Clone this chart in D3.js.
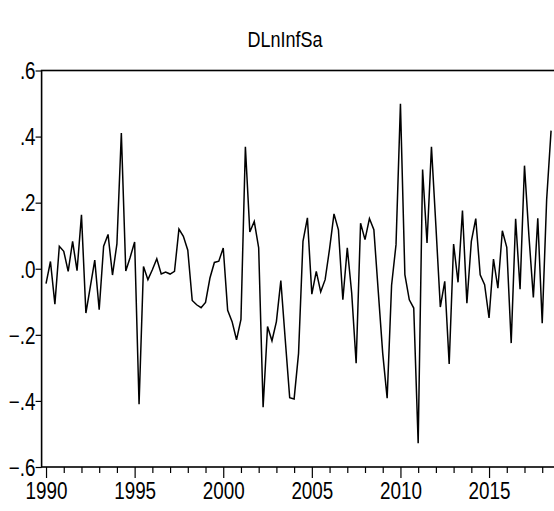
<!DOCTYPE html>
<html>
<head>
<meta charset="utf-8">
<script src="https://cdn.jsdelivr.net/npm/d3@7"></script>
<style>
  body { margin: 0; background: #fff; }
  svg { display: block; }
  text { font-family: "Liberation Sans", Arial, sans-serif; fill: #000; }
</style>
</head>
<body>
<svg id="chart" width="554" height="511"></svg>
<script>
// DLnInfSa, quarterly from 1990Q1
const startYear = 1990;
const values = [
  -0.045, 0.022, -0.107, 0.068, 0.053, -0.008, 0.083, -0.006,
  0.163, -0.134, -0.054, 0.026, -0.124, 0.068, 0.104, -0.019,
  0.075, 0.411, -0.007, 0.035, 0.081, -0.410, 0.007, -0.033,
  -0.003, 0.030, -0.016, -0.010, -0.016, -0.008, 0.120, 0.098,
  0.056, -0.096, -0.109, -0.118, -0.102, -0.028, 0.019, 0.023,
  0.063, -0.126, -0.160, -0.215, -0.153, 0.369, 0.111, 0.143,
  0.063, -0.419, -0.175, -0.218, -0.160, -0.036, -0.215, -0.390,
  -0.394, -0.256, 0.083, 0.154, -0.077, -0.008, -0.070, -0.033,
  0.060, 0.166, 0.118, -0.094, 0.063, -0.074, -0.286, 0.138,
  0.088, 0.152, 0.118, -0.070, -0.256, -0.392, -0.050, 0.073,
  0.499, -0.018, -0.094, -0.119, -0.528, 0.300, 0.078, 0.369,
  0.130, -0.116, -0.038, -0.288, 0.075, -0.041, 0.176, -0.104,
  0.083, 0.152, -0.018, -0.048, -0.149, 0.029, -0.059, 0.115,
  0.065, -0.225, 0.151, -0.062, 0.312, 0.100, -0.087, 0.153,
  -0.165, 0.209, 0.418
];
const yTicks = [-0.6, -0.4, -0.2, 0, 0.2, 0.4, 0.6];
const yearTicks = d3.range(1990, 2019);
const labelYears = [1990, 1995, 2000, 2005, 2010, 2015];

const sx = 0.82; // narrow text
const svg = d3.select("#chart");

const x = d3.scaleLinear().domain([1989.75, 2018.75]).range([41.6, 555.5]);
const y = d3.scaleLinear().domain([-0.6, 0.6]).range([467, 70.5]);

// title
svg.append("text")
  .attr("transform", "translate(285,47) scale(" + sx + ",1)")
  .attr("text-anchor", "middle")
  .style("font-size", "22px")
  .text("DLnInfSa");

// frame
svg.append("rect")
  .attr("x", x.range()[0]).attr("y", y(0.6))
  .attr("width", x.range()[1] - x.range()[0])
  .attr("height", y(-0.6) - y(0.6))
  .attr("fill", "none").attr("stroke", "#000").attr("stroke-width", 1.6);

function fmtY(d) {
  if (Math.abs(d) < 1e-9) return ".0";
  return d3.format(".1f")(d).replace("0.", ".");
}

// y axis
const yAxis = svg.append("g")
  .attr("transform", "translate(" + x.range()[0] + ",0)")
  .call(d3.axisLeft(y).tickValues(yTicks).tickSize(6).tickFormat(fmtY));
yAxis.select(".domain").remove();
yAxis.selectAll(".tick line").attr("stroke", "#000").attr("stroke-width", 1.2);
yAxis.selectAll(".tick text")
  .style("font-size", "23px")
  .attr("x", -6 / sx)
  .attr("dy", "0.36em")
  .attr("transform", "scale(" + sx + ",1)");

// x axis
const xAxis = svg.append("g")
  .attr("transform", "translate(0," + y(-0.6) + ")")
  .call(d3.axisBottom(x).tickValues(yearTicks).tickSize(6)
    .tickFormat(d => labelYears.includes(d) ? d : ""));
xAxis.select(".domain").remove();
xAxis.selectAll(".tick line").attr("stroke", "#000").attr("stroke-width", 1.2)
  .attr("y2", d => labelYears.includes(d) ? 11 : 6);
xAxis.selectAll(".tick text")
  .style("font-size", "23px")
  .attr("y", 15)
  .attr("dy", "0.76em")
  .attr("transform", "scale(" + sx + ",1)");

// series
const line = d3.line()
  .x((d, i) => x(startYear + i / 4))
  .y(d => y(d));

svg.append("path")
  .datum(values)
  .attr("d", line)
  .attr("fill", "none")
  .attr("stroke", "#000")
  .attr("stroke-width", 1.5)
  .attr("stroke-linejoin", "miter");
</script>
</body>
</html>
